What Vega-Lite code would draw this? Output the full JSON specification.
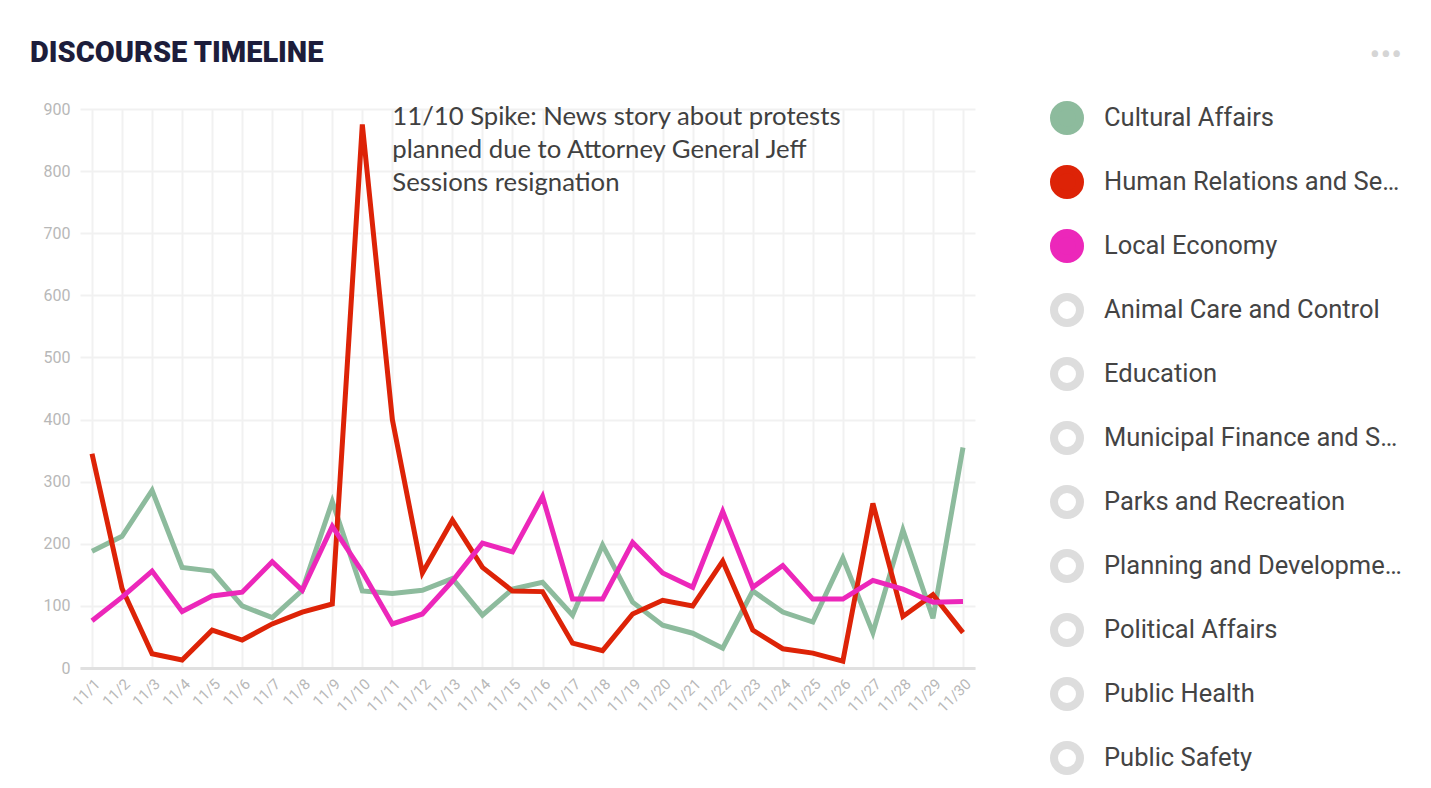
{
  "$schema": "https://vega.github.io/schema/vega-lite/v6.json",
  "autosize": {"type": "none"},
  "width": 895,
  "height": 559,
  "padding": {"left": 80, "top": 109, "right": 456, "bottom": 120},
  "background": "#ffffff",
  "title": {
    "text": "DISCOURSE TIMELINE",
    "anchor": "start",
    "frame": "group",
    "font": "Roboto",
    "fontSize": 29,
    "fontWeight": 900,
    "color": "#1d1d3b",
    "baseline": "alphabetic",
    "offset": 0,
    "dy": 51,
    "dx": -50
  },
  "config": {
    "view": {"stroke": null},
    "axis": {
      "gridColor": "#f1f1f1",
      "gridWidth": 2,
      "ticks": false,
      "labelFont": "Roboto",
      "title": null
    }
  },
  "datasets": {
    "series": [
      {"date": "11/1", "topic": "Cultural Affairs", "count": 188},
      {"date": "11/2", "topic": "Cultural Affairs", "count": 212},
      {"date": "11/3", "topic": "Cultural Affairs", "count": 286},
      {"date": "11/4", "topic": "Cultural Affairs", "count": 162},
      {"date": "11/5", "topic": "Cultural Affairs", "count": 156},
      {"date": "11/6", "topic": "Cultural Affairs", "count": 100},
      {"date": "11/7", "topic": "Cultural Affairs", "count": 81},
      {"date": "11/8", "topic": "Cultural Affairs", "count": 125},
      {"date": "11/9", "topic": "Cultural Affairs", "count": 268},
      {"date": "11/10", "topic": "Cultural Affairs", "count": 124},
      {"date": "11/11", "topic": "Cultural Affairs", "count": 120},
      {"date": "11/12", "topic": "Cultural Affairs", "count": 125},
      {"date": "11/13", "topic": "Cultural Affairs", "count": 144},
      {"date": "11/14", "topic": "Cultural Affairs", "count": 85},
      {"date": "11/15", "topic": "Cultural Affairs", "count": 127},
      {"date": "11/16", "topic": "Cultural Affairs", "count": 138},
      {"date": "11/17", "topic": "Cultural Affairs", "count": 85},
      {"date": "11/18", "topic": "Cultural Affairs", "count": 198},
      {"date": "11/19", "topic": "Cultural Affairs", "count": 106},
      {"date": "11/20", "topic": "Cultural Affairs", "count": 69},
      {"date": "11/21", "topic": "Cultural Affairs", "count": 56},
      {"date": "11/22", "topic": "Cultural Affairs", "count": 32},
      {"date": "11/23", "topic": "Cultural Affairs", "count": 124},
      {"date": "11/24", "topic": "Cultural Affairs", "count": 90},
      {"date": "11/25", "topic": "Cultural Affairs", "count": 74},
      {"date": "11/26", "topic": "Cultural Affairs", "count": 177},
      {"date": "11/27", "topic": "Cultural Affairs", "count": 57},
      {"date": "11/28", "topic": "Cultural Affairs", "count": 222},
      {"date": "11/29", "topic": "Cultural Affairs", "count": 80},
      {"date": "11/30", "topic": "Cultural Affairs", "count": 355},
      {"date": "11/1", "topic": "Human Relations and Services", "count": 345},
      {"date": "11/2", "topic": "Human Relations and Services", "count": 128},
      {"date": "11/3", "topic": "Human Relations and Services", "count": 23},
      {"date": "11/4", "topic": "Human Relations and Services", "count": 13},
      {"date": "11/5", "topic": "Human Relations and Services", "count": 61},
      {"date": "11/6", "topic": "Human Relations and Services", "count": 45},
      {"date": "11/7", "topic": "Human Relations and Services", "count": 71},
      {"date": "11/8", "topic": "Human Relations and Services", "count": 90},
      {"date": "11/9", "topic": "Human Relations and Services", "count": 103},
      {"date": "11/10", "topic": "Human Relations and Services", "count": 875},
      {"date": "11/11", "topic": "Human Relations and Services", "count": 400},
      {"date": "11/12", "topic": "Human Relations and Services", "count": 153},
      {"date": "11/13", "topic": "Human Relations and Services", "count": 238},
      {"date": "11/14", "topic": "Human Relations and Services", "count": 162},
      {"date": "11/15", "topic": "Human Relations and Services", "count": 124},
      {"date": "11/16", "topic": "Human Relations and Services", "count": 123},
      {"date": "11/17", "topic": "Human Relations and Services", "count": 40},
      {"date": "11/18", "topic": "Human Relations and Services", "count": 28},
      {"date": "11/19", "topic": "Human Relations and Services", "count": 87},
      {"date": "11/20", "topic": "Human Relations and Services", "count": 109},
      {"date": "11/21", "topic": "Human Relations and Services", "count": 100},
      {"date": "11/22", "topic": "Human Relations and Services", "count": 172},
      {"date": "11/23", "topic": "Human Relations and Services", "count": 61},
      {"date": "11/24", "topic": "Human Relations and Services", "count": 31},
      {"date": "11/25", "topic": "Human Relations and Services", "count": 24},
      {"date": "11/26", "topic": "Human Relations and Services", "count": 11},
      {"date": "11/27", "topic": "Human Relations and Services", "count": 265},
      {"date": "11/28", "topic": "Human Relations and Services", "count": 83},
      {"date": "11/29", "topic": "Human Relations and Services", "count": 118},
      {"date": "11/30", "topic": "Human Relations and Services", "count": 57},
      {"date": "11/1", "topic": "Local Economy", "count": 76},
      {"date": "11/2", "topic": "Local Economy", "count": 114},
      {"date": "11/3", "topic": "Local Economy", "count": 156},
      {"date": "11/4", "topic": "Local Economy", "count": 91},
      {"date": "11/5", "topic": "Local Economy", "count": 116},
      {"date": "11/6", "topic": "Local Economy", "count": 122},
      {"date": "11/7", "topic": "Local Economy", "count": 171},
      {"date": "11/8", "topic": "Local Economy", "count": 125},
      {"date": "11/9", "topic": "Local Economy", "count": 228},
      {"date": "11/10", "topic": "Local Economy", "count": 155},
      {"date": "11/11", "topic": "Local Economy", "count": 71},
      {"date": "11/12", "topic": "Local Economy", "count": 87},
      {"date": "11/13", "topic": "Local Economy", "count": 140},
      {"date": "11/14", "topic": "Local Economy", "count": 201},
      {"date": "11/15", "topic": "Local Economy", "count": 187},
      {"date": "11/16", "topic": "Local Economy", "count": 276},
      {"date": "11/17", "topic": "Local Economy", "count": 111},
      {"date": "11/18", "topic": "Local Economy", "count": 111},
      {"date": "11/19", "topic": "Local Economy", "count": 202},
      {"date": "11/20", "topic": "Local Economy", "count": 153},
      {"date": "11/21", "topic": "Local Economy", "count": 130},
      {"date": "11/22", "topic": "Local Economy", "count": 252},
      {"date": "11/23", "topic": "Local Economy", "count": 130},
      {"date": "11/24", "topic": "Local Economy", "count": 165},
      {"date": "11/25", "topic": "Local Economy", "count": 111},
      {"date": "11/26", "topic": "Local Economy", "count": 111},
      {"date": "11/27", "topic": "Local Economy", "count": 141},
      {"date": "11/28", "topic": "Local Economy", "count": 127},
      {"date": "11/29", "topic": "Local Economy", "count": 106},
      {"date": "11/30", "topic": "Local Economy", "count": 107}
    ],
    "notes": [
      {"date": "11/11", "count": 900, "note": "11/10 Spike: News story about protests\nplanned due to Attorney General Jeff\nSessions resignation"}
    ]
  },
  "encoding": {
    "x": {
      "field": "date",
      "type": "ordinal",
      "scale": {
        "type": "point",
        "padding": 0.4,
        "domain": ["11/1","11/2","11/3","11/4","11/5","11/6","11/7","11/8","11/9","11/10","11/11","11/12","11/13","11/14","11/15","11/16","11/17","11/18","11/19","11/20","11/21","11/22","11/23","11/24","11/25","11/26","11/27","11/28","11/29","11/30"]
      },
      "axis": {
        "labelAngle": -45,
        "labelColor": "#b8b8b8",
        "labelFontSize": 15,
        "labelPadding": 8,
        "domainColor": "#e0e0e0",
        "domainWidth": 3,
        "grid": true
      }
    },
    "y": {
      "field": "count",
      "type": "quantitative",
      "scale": {"domain": [0, 900], "nice": false},
      "axis": {
        "values": [0, 100, 200, 300, 400, 500, 600, 700, 800, 900],
        "labelColor": "#b8b8b8",
        "labelFontSize": 16,
        "labelPadding": 10,
        "domain": false,
        "grid": true
      }
    }
  },
  "layer": [
    {
      "data": {"name": "series"},
      "mark": {"type": "line", "strokeWidth": 5, "strokeJoin": "miter"},
      "encoding": {
        "color": {
          "field": "topic",
          "type": "nominal",
          "scale": {
            "domain": ["Cultural Affairs", "Human Relations and Services", "Local Economy", "Animal Care and Control", "Education", "Municipal Finance and Spending", "Parks and Recreation", "Planning and Development", "Political Affairs", "Public Health", "Public Safety"],
            "range": ["#8dbb9d", "#dd2307", "#ec27ba", "#dddddd", "#dddddd", "#dddddd", "#dddddd", "#dddddd", "#dddddd", "#dddddd", "#dddddd"]
          },
          "legend": {
            "orient": "none",
            "legendX": 970,
            "legendY": -69,
            "title": "•••",
            "titleAnchor": "end",
            "titleColor": "#d5d5d5",
            "titleFont": "Roboto",
            "titleFontSize": 32,
            "titleFontWeight": "normal",
            "titlePadding": 29,
            "symbolType": "circle",
            "symbolSize": 676,
            "symbolStrokeWidth": 8,
            "labelFont": "Roboto",
            "labelFontSize": 25.5,
            "labelColor": "#444444",
            "labelLimit": 299,
            "labelOffset": 20,
            "rowPadding": 6,
            "encode": {
              "symbols": {
                "update": {
                  "fill": [
                    {"test": "indexof(['Cultural Affairs','Human Relations and Services','Local Economy'], datum.value) < 0", "value": "#ffffff"},
                    {"scale": "color", "field": "value"}
                  ],
                  "stroke": {"scale": "color", "field": "value"},
                  "strokeWidth": {"value": 8},
                  "opacity": {"value": 1},
                  "fillOpacity": {"value": 1}
                }
              }
            }
          }
        }
      }
    },
    {
      "data": {"name": "notes"},
      "mark": {"type": "text", "font": "Lato", "fontSize": 25.7, "color": "#404040", "align": "left", "baseline": "top", "lineHeight": 33, "lineBreak": "\n", "dy": -4},
      "encoding": {"text": {"field": "note"}}
    }
  ]
}
